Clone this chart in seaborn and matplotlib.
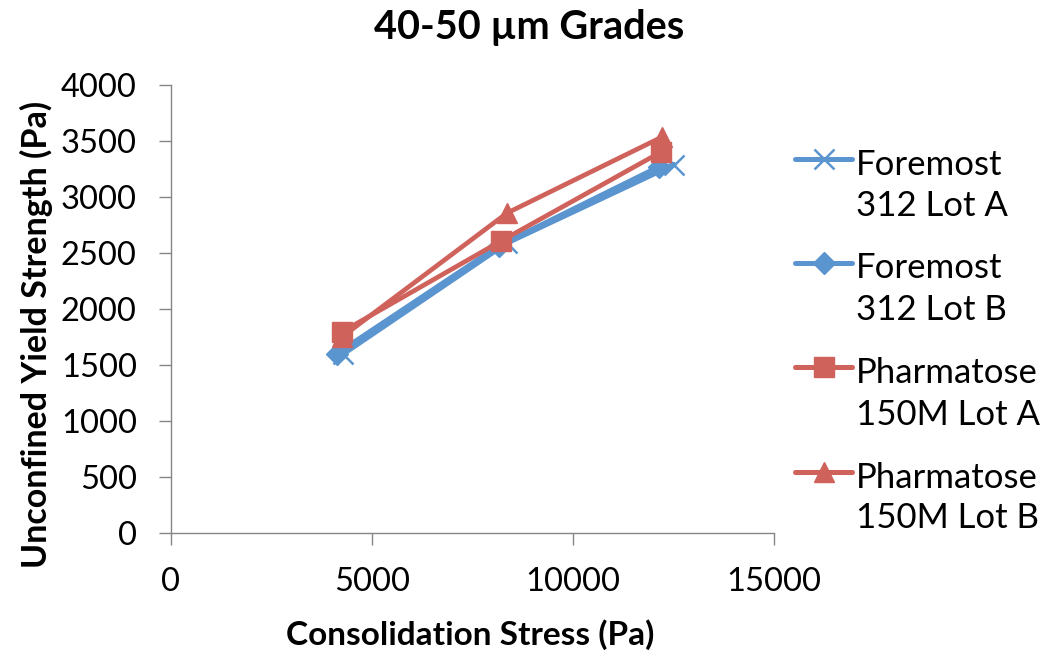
import matplotlib
matplotlib.use("Agg")
import matplotlib.pyplot as plt
from matplotlib.lines import Line2D
import seaborn as sns
import pandas as pd

series_names = ["Foremost 312 Lot A", "Foremost 312 Lot B", "Pharmatose 150M Lot A", "Pharmatose 150M Lot B"]
legend_line1 = ["Foremost", "Foremost", "Pharmatose", "Pharmatose"]
legend_line2 = ["312 Lot A", "312 Lot B", "150M Lot A", "150M Lot B"]
fa_x = [4280, 8350, 12500]
fa_y = [1600, 2590, 3290]
fb_x = [4130, 8150, 12150]
fb_y = [1600, 2560, 3270]
pa_x = [4250, 8210, 12190]
pa_y = [1795, 2607, 3402]
pb_x = [4250, 8360, 12210]
pb_y = [1750, 2857, 3535]
x_ticks = [0, 5000, 10000, 15000]
y_ticks = [0, 500, 1000, 1500, 2000, 2500, 3000, 3500, 4000]

sns.set_theme(style="white")
plt.rcParams["font.family"] = ["Lato", "DejaVu Sans"]

blue = "#5B95CF"
red = "#D0625C"
W, H = 1042, 655

fig = plt.figure(figsize=(W / 100, H / 100), dpi=100)
ax = fig.add_axes([171 / W, 1 - 533 / H, (774 - 171) / W, (533 - 85) / H])

styles = [
    (fa_x, fa_y, blue, "x", 14, 4.0, 1.8),
    (fb_x, fb_y, blue, "D", 11, 4.0, 1),
    (pa_x, pa_y, red, "s", 15, 3.4, 1),
    (pb_x, pb_y, red, "^", 15, 3.4, 1),
]
for name, (xs, ys, c, m, ms, lw, mew) in zip(series_names, styles):
    df = pd.DataFrame({"x": xs, "y": ys})
    sns.lineplot(data=df, x="x", y="y", ax=ax, color=c, marker=m, markersize=ms,
                 linewidth=lw, markeredgecolor=c, markerfacecolor=c,
                 markeredgewidth=mew, sort=False, legend=False)

ax.set_xlim(0, 15000)
ax.set_ylim(0, 4000)
ax.set_xticks(x_ticks)
ax.set_yticks(y_ticks)
ax.tick_params(axis="both", labelsize=23.5, direction="out", length=8.6, width=1,
               color="#868686", bottom=True, left=True, labelcolor="black")
ax.tick_params(axis="x", pad=16)
ax.tick_params(axis="y", pad=16)
for s in ["top", "right"]:
    ax.spines[s].set_visible(False)
for s in ["left", "bottom"]:
    ax.spines[s].set_color("#868686")
    ax.spines[s].set_linewidth(1)

ax.set_xlabel("")
ax.set_ylabel("")
fig.text((280 + 660) / 2 / W, 1 - 645 / H, "Consolidation Stress (Pa)", ha="center", va="baseline",
         fontsize=24, fontweight="bold", color="black")
fig.text(36 / W, 1 - 334 / H, "Unconfined Yield Strength (Pa)", ha="center", va="center",
         rotation=90, fontsize=24.5, fontweight="bold", color="black")
fig.text(529 / W, 1 - 28 / H, "40-50 µm Grades", ha="center", va="center", fontsize=28.5,
         fontweight="bold", color="black")

# legend (manual layout)
handle_y = [159, 263, 367, 472]
base1 = [175, 278, 383, 488]
base2 = [216, 320, 425, 528]
for i, (st, hy) in enumerate(zip(styles, handle_y)):
    c, m, ms, mew = st[2], st[3], st[4], st[6]
    fig.add_artist(Line2D([795 / W, 852 / W], [1 - hy / H, 1 - hy / H], color=c, linewidth=3.6,
                          solid_capstyle="round", transform=fig.transFigure))
    fig.add_artist(Line2D([823.5 / W], [1 - hy / H], marker=m, markersize=ms, color=c,
                          markeredgecolor=c, markerfacecolor=c, markeredgewidth=mew,
                          linestyle="none", transform=fig.transFigure))
    fig.text(856 / W, 1 - base1[i] / H, legend_line1[i], ha="left", va="baseline", fontsize=25, color="black")
    fig.text(856 / W, 1 - base2[i] / H, legend_line2[i], ha="left", va="baseline", fontsize=25, color="black")

fig.savefig("out.png", dpi=100)
